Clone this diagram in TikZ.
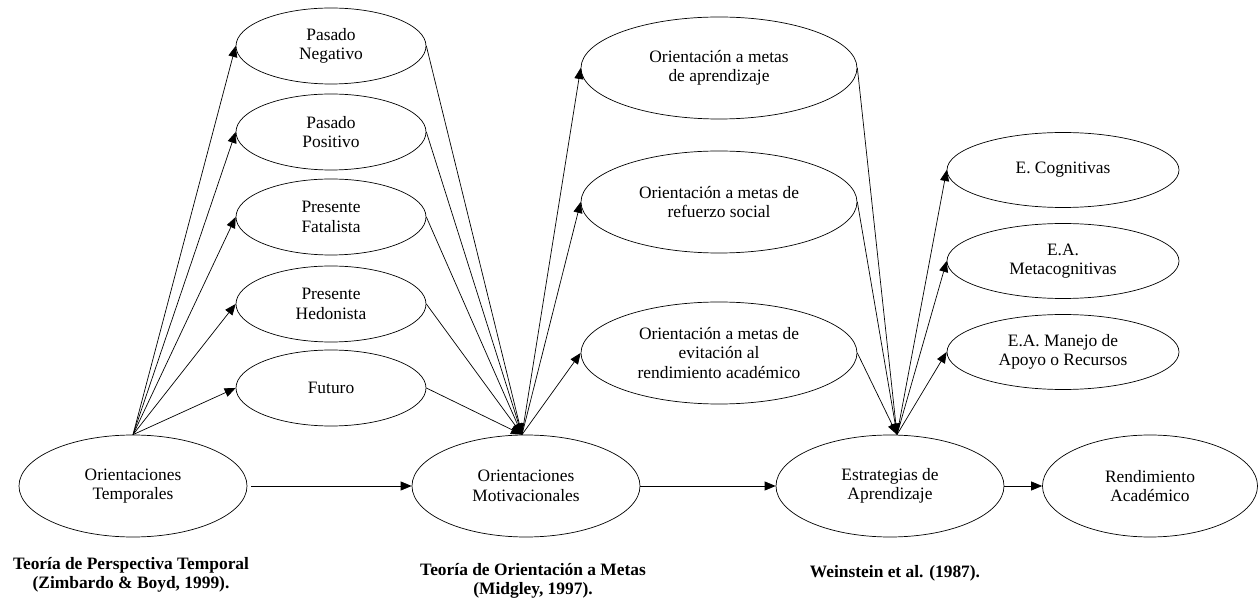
\documentclass[tikz,border=0pt]{standalone}
\usepackage{fontspec}
\setmainfont{Liberation Serif}
\usetikzlibrary{shapes.geometric,arrows.meta}
\tikzset{
  ovalo/.style={ellipse,draw,inner sep=0pt,align=center},
  grande/.style={ovalo,minimum width=228pt,minimum height=102pt},
  chico/.style={ovalo,minimum width=190pt,minimum height=76pt},
  meta/.style={ovalo,minimum width=276pt,minimum height=102pt},
  estr/.style={ovalo,minimum width=232pt,minimum height=75pt},
  teoria/.style={align=center,font=\fontsize{17.4}{19.5}\selectfont\bfseries},
  flecha/.style={-{Triangle[length=11pt,width=9pt]}}
}
\begin{document}
\begin{tikzpicture}[x=1pt,y=-1pt,line width=0.7pt,font=\fontsize{17.4}{19.5}\selectfont]
   \useasboundingbox (0,0) rectangle (1259,601);
   \node[grande] (ot) at (133,486) {Orientaciones\\Temporales};
   \node[chico] (pn) at (331,46) {Pasado\\Negativo};
   \node[chico] (pp) at (331,132) {Pasado\\Positivo};
   \node[chico] (pf) at (331,217) {Presente\\Fatalista};
   \node[chico] (ph) at (331,304) {Presente\\Hedonista};
   \node[chico] (fu) at (331,388) {Futuro};
   \node[grande] (om) at (526,486) {Orientaciones\\Motivacionales};
   \node[meta] (ga) at (719,68) {Orientación a metas\\de aprendizaje};
   \node[meta] (gs) at (719,202) {Orientación a metas de\\refuerzo social};
   \node[meta] (ge) at (719,353) {Orientación a metas de\\evitación al\\rendimiento académico};
   \node[grande] (ea) at (890,486) {Estrategias de\\Aprendizaje};
   \node[grande,minimum width=215pt] (ra) at (1150,486) {Rendimiento\\Académico};
   \node[estr] (ec) at (1063,170) {E. Cognitivas};
   \node[estr] (em) at (1063,261) {E.A.\\Metacognitivas};
   \node[estr] (er) at (1063,352) {E.A. Manejo de\\Apoyo o Recursos};
   \coordinate (omtop) at ([xshift=-4pt]om.north);
   \coordinate (eatop) at ([xshift=7pt]ea.north);

   \node[teoria] (t1) at (131,575) {Teoría de Perspectiva Temporal\\(Zimbardo \& Boyd, 1999).};
   \node[teoria] (t2) at (533,581) {Teoría de Orientación a Metas\\(Midgley, 1997).};
   \node[teoria] (t3) at (895,573) {Weinstein et al. (1987).};

   \draw[flecha] (ot.north) -- (pn.west);
   \draw[flecha] (ot.north) -- (pp.west);
   \draw[flecha] (ot.north) -- (pf.west);
   \draw[flecha] (ot.north) -- (ph.west);
   \draw[flecha] (ot.north) -- (fu.west);
   \draw[flecha] (pn.east) -- (omtop);
   \draw[flecha] (pp.east) -- (omtop);
   \draw[flecha] (pf.east) -- (omtop);
   \draw[flecha] (ph.east) -- (omtop);
   \draw[flecha] (fu.east) -- (omtop);

   \draw[flecha] (omtop) -- (ga.west);
   \draw[flecha] (omtop) -- (gs.west);
   \draw[flecha] (omtop) -- (ge.west);
   \draw[flecha] (ga.east) -- (eatop);
   \draw[flecha] (gs.east) -- (eatop);
   \draw[flecha] (ge.east) -- (eatop);

   \draw[flecha] (eatop) -- (ec.west);
   \draw[flecha] (eatop) -- (em.west);
   \draw[flecha] (eatop) -- (er.west);

   \draw[flecha,shorten <=4pt] (ot.east) -- (om.west);
   \draw[flecha] (om.east) -- (ea.west);
   \draw[flecha] (ea.east) -- (ra.west);
\end{tikzpicture}
\end{document}
